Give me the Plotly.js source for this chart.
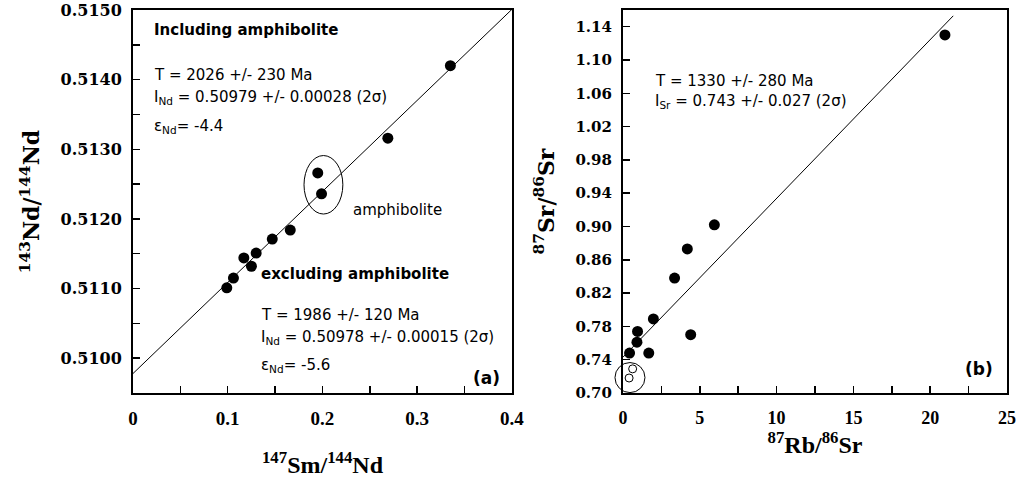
<!DOCTYPE html>
<html>
<head>
<meta charset="utf-8">
<script src="https://cdn.plot.ly/plotly-3.0.1.min.js"></script>
<style>html,body{margin:0;padding:0;background:#fff;}#chart{width:1023px;height:479px;}</style>
</head>
<body>
<div id="chart"></div>
<script>
// ---- Panel (a): Sm-Nd isochron data ----
const smNd = [0.099, 0.106, 0.117, 0.125, 0.130, 0.147, 0.166, 0.195, 0.199, 0.269, 0.335];
const ndNd = [0.51101, 0.51115, 0.51144, 0.51132, 0.51151, 0.51171, 0.51184, 0.51266, 0.51236, 0.51316, 0.51420];
const ndIsoX = [0, 0.4];
const ndIsoY = [0.50978, 0.51501];

// ---- Panel (b): Rb-Sr isochron data ----
const rbSr = [20.96, 5.95, 4.19, 3.36, 4.41, 1.98, 0.95, 0.91, 1.68, 0.43];
const srSr = [1.130, 0.902, 0.873, 0.838, 0.770, 0.789, 0.774, 0.761, 0.748, 0.748];
const rbSrOpen = [0.63, 0.40];
const srSrOpen = [0.729, 0.718];
const srIsoX = [0, 21.5];
const srIsoY = [0.743, 1.153];

// ---- Tick labels ----
const smTickVals = [0, 0.1, 0.2, 0.3, 0.4];
const smTickText = ['0', '0.1', '0.2', '0.3', '0.4'];
const ndTickVals = [0.5100, 0.5110, 0.5120, 0.5130, 0.5140, 0.5150];
const ndTickText = ['0.5100', '0.5110', '0.5120', '0.5130', '0.5140', '0.5150'];
const rbTickVals = [0, 5, 10, 15, 20, 25];
const rbTickText = ['0', '5', '10', '15', '20', '25'];
const srTickVals = [0.70, 0.74, 0.78, 0.82, 0.86, 0.90, 0.94, 0.98, 1.02, 1.06, 1.10, 1.14];
const srTickText = ['0.70', '0.74', '0.78', '0.82', '0.86', '0.90', '0.94', '0.98', '1.02', '1.06', '1.10', '1.14'];

const dot = {color: '#000', size: 11};
const traces = [
  {x: ndIsoX, y: ndIsoY, mode: 'lines', line: {color: '#000', width: 1}, xaxis: 'x', yaxis: 'y', hoverinfo: 'skip'},
  {x: smNd, y: ndNd, mode: 'markers', marker: dot, xaxis: 'x', yaxis: 'y'},
  {x: srIsoX, y: srIsoY, mode: 'lines', line: {color: '#000', width: 1}, xaxis: 'x2', yaxis: 'y2', hoverinfo: 'skip'},
  {x: rbSr, y: srSr, mode: 'markers', marker: dot, xaxis: 'x2', yaxis: 'y2'},
  {x: rbSrOpen, y: srSrOpen, mode: 'markers', marker: {color: '#fff', size: 8, line: {color: '#000', width: 1}}, xaxis: 'x2', yaxis: 'y2', cliponaxis: false}
];

const xTickFont = {family: 'Liberation Serif', size: 19, weight: 700, color: '#000'};
const xTitleFont = {family: 'Liberation Serif', size: 24, weight: 700, color: '#000'};
const yTitleFont = {family: 'DejaVu Serif', size: 22, weight: 700, color: '#000'};
const axBase = {ticks: 'inside', ticklen: 7, tickwidth: 1.5, tickcolor: '#000', showline: true, linewidth: 2, linecolor: '#000',
  mirror: true, showgrid: false, zeroline: false, tickmode: 'array', automargin: false};
function minorTicks(d) { return {ticks: 'inside', ticklen: 7, tickwidth: 1.5, tickcolor: '#000', dtick: d, showgrid: false}; }

const txt = {family: 'DejaVu Sans', size: 15, color: '#000'};
function ann(x, y, text, xref, yref, extra) {
  return Object.assign({x: x, y: y, xref: xref, yref: yref, text: text, showarrow: false, xanchor: 'left', yanchor: 'middle', font: txt}, extra || {});
}

const layout = {
  width: 1023, height: 479,
  margin: {l: 133, r: 16, t: 10, b: 86, pad: 0},
  paper_bgcolor: '#fff', plot_bgcolor: '#fff',
  showlegend: false,
  xaxis: Object.assign({}, axBase, {domain: [0, 0.4336], range: [0, 0.4], anchor: 'y',
    tickvals: smTickVals, ticktext: smTickText, tickfont: xTickFont, ticklabelstandoff: 7, minor: minorTicks(0.05),
    title: {text: '<sup>147</sup>Sm/<sup>144</sup>Nd', font: xTitleFont, standoff: 28}}),
  yaxis: Object.assign({}, axBase, {domain: [0, 1], range: [0.5095, 0.5150], anchor: 'x',
    tickvals: ndTickVals, ticktext: ndTickText, tickfont: {family: 'DejaVu Serif', size: 16, weight: 700, color: '#000'}, ticklabelstandoff: 6,
    minor: minorTicks(0.0005),
    title: {text: '<sup>143</sup>Nd/<sup>144</sup>Nd', font: yTitleFont, standoff: 15}}),
  xaxis2: Object.assign({}, axBase, {domain: [0.5606, 1], range: [0, 25], anchor: 'y2',
    tickvals: rbTickVals, ticktext: rbTickText, tickfont: {family: 'Liberation Serif', size: 18, weight: 700, color: '#000'}, ticklabelstandoff: 7,
    minor: minorTicks(2.5),
    title: {text: '<sup>87</sup>Rb/<sup>86</sup>Sr', font: xTitleFont, standoff: 1}}),
  yaxis2: Object.assign({}, axBase, {domain: [0, 1], range: [0.70, 1.16], anchor: 'x2',
    tickvals: srTickVals, ticktext: srTickText, tickfont: {family: 'DejaVu Serif', size: 15, weight: 700, color: '#000'}, ticklabelstandoff: 6,
    title: {text: '<sup>87</sup>Sr/<sup>86</sup>Sr', font: yTitleFont, standoff: 15}}),
  shapes: [
    {type: 'circle', xref: 'x', yref: 'y', x0: 0.1805, x1: 0.2215, y0: 0.51207, y1: 0.51291, line: {color: '#000', width: 1}},
    {type: 'circle', xref: 'x2 domain', yref: 'y2 domain', x0: -0.0208, x1: 0.0573, y0: 0.001, y1: 0.0795, line: {color: '#000', width: 1}}
  ],
  annotations: [
    ann(0.020, 0.51471, '<b>Including amphibolite</b>', 'x', 'y'),
    ann(0.020, 0.51407, 'T = 2026 +/- 230 Ma', 'x', 'y'),
    ann(0.020, 0.51375, 'I<sub>Nd</sub> = 0.50979 +/- 0.00028 (2σ)', 'x', 'y'),
    ann(0.020, 0.51332, 'ε<sub>Nd</sub>= -4.4', 'x', 'y'),
    ann(0.2305, 0.51213, 'amphibolite', 'x', 'y'),
    ann(0.1326, 0.51121, '<b>excluding amphibolite</b>', 'x', 'y'),
    ann(0.1326, 0.51062, 'T = 1986 +/- 120 Ma', 'x', 'y'),
    ann(0.1326, 0.51029, 'I<sub>Nd</sub> = 0.50978 +/- 0.00015 (2σ)', 'x', 'y'),
    ann(0.1326, 0.50990, 'ε<sub>Nd</sub>= -5.6', 'x', 'y'),
    ann(0.390, 0.50972, '<b>(a)</b>', 'x', 'y', {xanchor: 'right', font: {family: 'DejaVu Sans', size: 17, color: '#000'}}),
    ann(1.95, 1.075, 'T = 1330 +/- 280 Ma', 'x2', 'y2'),
    ann(1.95, 1.050, 'I<sub>Sr</sub> = 0.743 +/- 0.027 (2σ)', 'x2', 'y2'),
    ann(24.2, 0.7287, '<b>(b)</b>', 'x2', 'y2', {xanchor: 'right', font: {family: 'DejaVu Sans', size: 17, color: '#000'}})
  ]
};

Plotly.newPlot('chart', traces, layout, {displayModeBar: false, staticPlot: true});
</script>
</body>
</html>
